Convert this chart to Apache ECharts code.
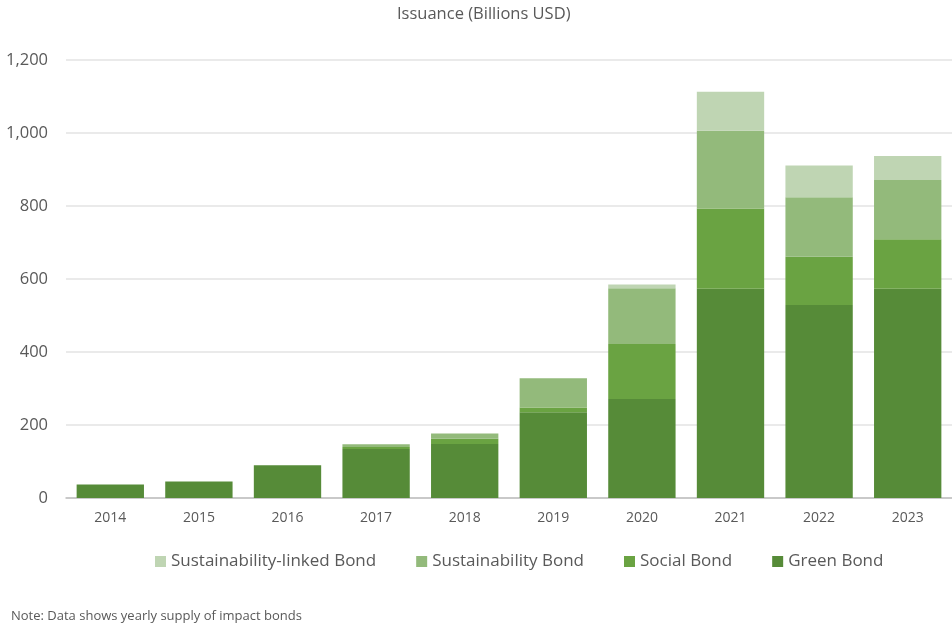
<!DOCTYPE html>
<html>
<head>
<meta charset="utf-8">
<script src="https://cdn.jsdelivr.net/npm/echarts@6/dist/echarts.min.js"></script>
<style>html,body{margin:0;padding:0;background:#fff;}#c{width:952px;height:630px;}</style>
</head>
<body>
<div id="c"></div>
<script>
const years = ['2014','2015','2016','2017','2018','2019','2020','2021','2022','2023'];
const greenBond = [37, 45, 90, 134, 148, 235, 271, 573, 529, 573];
const socialBond = [0, 0, 0, 6, 14, 13, 151, 220, 132, 136];
const sustainabilityBond = [0, 0, 0, 7, 15, 80, 153, 213, 163, 162];
const sustainabilityLinkedBond = [0, 0, 0, 0, 0, 0, 10, 107, 87, 66];
const yTicks = [0, 200, 400, 600, 800, 1000, 1200];

const FONT = '"Open Sans"';
const chart = echarts.init(document.getElementById('c'));
const mk = (name, data, color) => ({
  name, type: 'bar', stack: 'total', data, barCategoryGap: '24%',
  itemStyle: { color }, emphasis: { disabled: true }
});
chart.setOption({
  animation: false,
  textStyle: { fontFamily: FONT },
  title: {
    text: 'Issuance (Billions USD)', left: 392, top: 1,
    textStyle: { fontFamily: FONT, fontSize: 16.5, fontWeight: 'normal', color: '#595959' }
  },
  legend: {
    top: 548, left: 150, itemWidth: 11, itemHeight: 11, itemGap: 40,
    icon: 'rect',
    data: ['Sustainability-linked Bond', 'Sustainability Bond', 'Social Bond', 'Green Bond'],
    textStyle: { fontFamily: FONT, fontSize: 17, color: '#595959' }
  },
  graphic: [{
    type: 'text', left: 11, top: 610,
    style: { text: 'Note: Data shows yearly supply of impact bonds', font: '13px ' + FONT, fill: '#595959' }
  }],
  grid: { left: 66, right: 0, top: 60, bottom: 132 },
  xAxis: {
    type: 'category', data: years,
    axisLine: { lineStyle: { color: '#bfbfbf', width: 1.5 } },
    axisTick: { show: false },
    axisLabel: { color: '#595959', fontSize: 14, margin: 13, fontFamily: FONT }
  },
  yAxis: {
    type: 'value', min: yTicks[0], max: yTicks[yTicks.length - 1], interval: 200,
    axisLine: { show: false }, axisTick: { show: false },
    splitLine: { lineStyle: { color: '#e3e3e3', width: 1.5 } },
    axisLabel: {
      color: '#595959', fontSize: 16.5, margin: 18, fontFamily: FONT,
      formatter: v => v.toLocaleString('en-US')
    }
  },
  series: [
    mk('Green Bond', greenBond, '#568b38'),
    mk('Social Bond', socialBond, '#6aa342'),
    mk('Sustainability Bond', sustainabilityBond, '#93ba7b'),
    mk('Sustainability-linked Bond', sustainabilityLinkedBond, '#bfd5b3')
  ]
});
</script>
</body>
</html>
